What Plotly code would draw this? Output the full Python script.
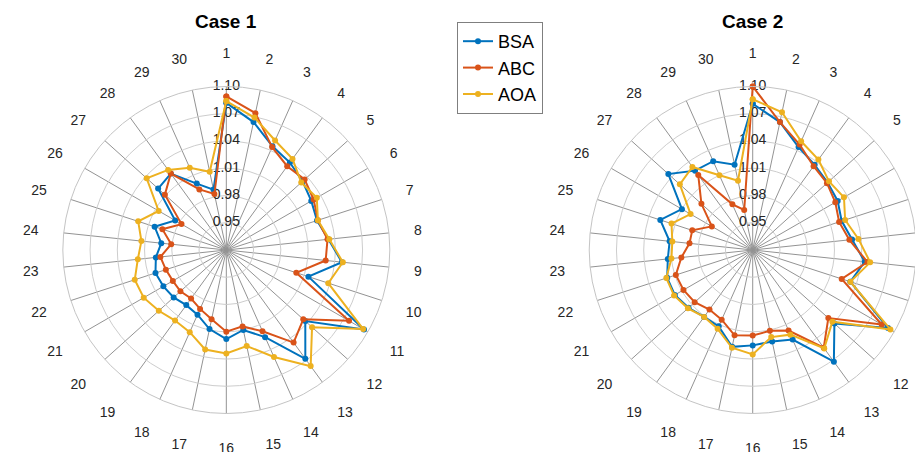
import plotly.graph_objects as go

# ---------------- data ----------------
categories = [str(i) for i in range(1, 31)]
r_ticks = [0.95, 0.98, 1.01, 1.04, 1.07, 1.10]
r_tick_labels = ["0.95", "0.98", "1.01", "1.04", "1.07", "1.10"]
series_names = ["BSA", "ABC", "AOA"]
series_colors = ["#0072BD", "#D95319", "#EDB120"]

case1_bsa = [1.082, 1.064, 1.045, 1.039, 1.033, 1.028, 1.025, 1.033, 1.048, 1.015,
             1.095, 1.037, 1.068, 1.025, 1.010, 1.018, 1.009, 0.998, 0.995, 0.998,
             1.000, 1.002, 0.998, 0.992, 1.003, 0.985, 1.021, 1.024, 1.000, 0.988]
case1_abc = [1.089, 1.074, 1.044, 1.034, 1.036, 1.031, 1.026, 1.032, 1.030, 1.001,
             1.076, 1.034, 1.046, 1.018, 1.006, 1.010, 0.998, 0.991, 0.986, 0.988,
             0.988, 0.990, 0.993, 0.981, 0.994, 0.977, 1.011, 1.024, 0.993, 0.983]
case1_aoa = [1.084, 1.069, 1.052, 1.044, 1.031, 1.035, 1.026, 1.034, 1.049, 1.038,
             1.094, 1.047, 1.078, 1.049, 1.028, 1.034, 1.032, 1.019, 1.016, 1.020,
             1.025, 1.026, 1.018, 1.014, 1.022, 1.006, 1.038, 1.029, 1.019, 1.008]

case2_bsa = [1.081, 1.064, 1.044, 1.036, 1.031, 1.028, 1.023, 1.030, 1.044, 1.033,
             1.092, 1.041, 1.072, 1.028, 1.023, 1.025, 1.029, 1.012, 1.011, 1.015,
             1.019, 1.019, 1.014, 1.012, 1.027, 1.010, 1.045, 1.028, 1.027, 1.016]
case2_abc = [1.100, 1.064, 1.047, 1.034, 1.030, 1.025, 1.020, 1.027, 1.047, 1.023,
             1.084, 1.032, 1.053, 1.017, 1.011, 1.014, 1.016, 1.004, 1.001, 1.006,
             1.008, 1.009, 0.999, 0.990, 0.990, 0.972, 0.996, 1.022, 0.975, 0.965]
case2_aoa = [1.086, 1.075, 1.051, 1.043, 1.033, 1.036, 1.027, 1.037, 1.050, 1.033,
             1.095, 1.038, 1.054, 1.022, 1.018, 1.035, 1.030, 1.015, 1.011, 1.016,
             1.020, 1.020, 1.010, 1.009, 1.014, 0.999, 1.028, 1.033, 1.010, 0.998]

case_titles = ["Case 1", "Case 2"]
cases = [
    ("polar", [case1_bsa, case1_abc, case1_aoa]),
    ("polar2", [case2_bsa, case2_abc, case2_aoa]),
]

FONT = "Liberation Sans, Arial, Helvetica, sans-serif"

fig = go.Figure()
for subplot, series in cases:
    # radial tick labels, centred on the spoke of the first category
    fig.add_trace(go.Scatterpolar(
        r=r_ticks, theta=[categories[0]] * len(r_ticks),
        mode="text", text=r_tick_labels, textposition="middle center",
        textfont=dict(family=FONT, size=14, color="#262626"),
        subplot=subplot, showlegend=False, hoverinfo="skip", cliponaxis=False,
    ))
    for name, color, vals in zip(series_names, series_colors, series):
        fig.add_trace(go.Scatterpolar(
            r=vals + vals[:1], theta=categories + categories[:1],
            mode="lines+markers", name=name, legendgroup=name,
            showlegend=(subplot == "polar"),
            line=dict(color=color, width=2),
            marker=dict(color=color, size=6),
            subplot=subplot, cliponaxis=False,
        ))


def polar_layout(x0, x1):
    return dict(
        domain=dict(x=[x0, x1], y=[0.0867, 0.8232]),
        bgcolor="white",
        angularaxis=dict(
            type="category", categoryorder="array", categoryarray=categories,
            rotation=90, direction="clockwise",
            showline=True, linecolor="#c4c4c4", linewidth=1,
            showgrid=True, gridcolor="#939393", gridwidth=1,
            ticks="outside", ticklen=22, tickcolor="rgba(0,0,0,0)",
            tickfont=dict(family=FONT, size=14, color="#262626"),
        ),
        radialaxis=dict(
            range=[0.92, 1.10], tickvals=r_ticks,
            showticklabels=False, ticks="", showline=False,
            showgrid=True, gridcolor="#cdcdcd", gridwidth=1,
        ),
    )


# the page body adds an 8 px offset, so the figure is 8 px smaller each way
fig.update_layout(
    width=915, height=444,
    margin=dict(l=0, r=0, t=0, b=0),
    paper_bgcolor="white", plot_bgcolor="white",
    font=dict(family=FONT, size=14, color="#262626"),
    polar=polar_layout(0.0599, 0.4173),
    polar2=polar_layout(0.6352, 0.9926),
    showlegend=True,
    legend=dict(
        x=0.4907, y=0.9685, xanchor="left", yanchor="top",
        bgcolor="white", bordercolor="#7f7f7f", borderwidth=1,
        font=dict(family=FONT, size=18, color="#000"),
        tracegroupgap=0, itemwidth=30,
    ),
    annotations=[
        dict(text="<b>%s</b>" % case_titles[0], x=0.2386, y=0.9707, xref="paper", yref="paper",
             showarrow=False, xanchor="center", yanchor="middle",
             font=dict(family=FONT, size=19, color="#000")),
        dict(text="<b>%s</b>" % case_titles[1], x=0.8139, y=0.9707, xref="paper", yref="paper",
             showarrow=False, xanchor="center", yanchor="middle",
             font=dict(family=FONT, size=19, color="#000")),
    ],
)

fig.write_html("out.html")
